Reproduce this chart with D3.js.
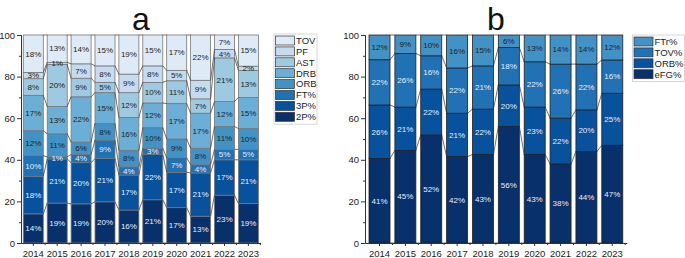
<!DOCTYPE html>
<html><head><meta charset="utf-8">
<script src="https://cdn.jsdelivr.net/npm/d3@7"></script>
<style>body{margin:0;background:#fff}svg{display:block}text{font-family:"Liberation Sans",Arial,sans-serif}</style>
</head><body>
<svg id="c" width="685" height="258"></svg>
<script>
const years = [2014,2015,2016,2017,2018,2019,2020,2021,2022,2023];
const yTicks = [0,20,40,60,80,100];

// Chart a (bottom to top)
const seriesA = ["2P%","3P%","FT%","ORB","DRB","AST","PF","TOV"];
const a2P  = [14,19,19,20,16,21,17,13,23,19];
const a3P  = [18,21,20,21,17,22,17,21,17,21];
const aFT  = [10, 1, 4, 9, 4, 3, 7, 4, 5, 5];
const aORB = [12,11, 6, 8, 8,10, 9, 8,11,10];
const aDRB = [17,13,22,15,16,12,17,17,12,15];
const aAST = [ 8,20, 9, 5,12,10,11, 7,21,13];
const aPF  = [ 3, 1, 7, 8, 9, 8, 5, 9, 4, 2];
const aTOV = [18,13,14,15,19,15,17,22, 7,15];
const colorsA = ["#08306b","#08519c","#2171b5","#4292c6","#6baed6","#9ecae1","#c6dbef","#deebf7"];
const darkTextA = [false,false,false,true,true,true,true,true];

// Chart b (bottom to top)
const seriesB = ["eFG%","ORB%","TOV%","FTr%"];
const bEFG = [41,45,52,42,43,56,43,38,44,47];
const bORB = [26,21,22,21,22,20,23,22,20,25];
const bTOV = [22,26,16,22,21,18,22,26,22,16];
const bFTr = [12, 9,10,16,15, 6,13,14,14,12];
const colorsB = ["#08306b","#08519c","#2171b5","#4292c6"];
const darkTextB = [false,false,false,true];

const svg = d3.select("#c");

function drawChart(cfg){
  const {keys, arrays, colors, darkText, x0, x1, pi, po, title, legendX, legendY, legendW, barStroke} = cfg;
  const rows = years.map((yr,i)=>{const o={year:yr}; keys.forEach((k,j)=>o[k]=arrays[j][i]); return o;});
  const stack = d3.stack().keys(keys).offset(d3.stackOffsetExpand)(rows);
  const x = d3.scaleBand().domain(years).range([x0,x1]).paddingInner(pi).paddingOuter(po);
  const y = d3.scaleLinear().domain([0,100]).range([243,35]);
  const g = svg.append("g");
  const bw = x.bandwidth();

  // bars
  stack.forEach((s,j)=>{
    g.append("g").selectAll("rect").data(s).join("rect")
      .attr("x",d=>x(d.data.year)).attr("width",bw)
      .attr("y",d=>y(d[1]*100)).attr("height",d=>y(d[0]*100)-y(d[1]*100))
      .attr("fill",colors[j]).attr("stroke",barStroke).attr("stroke-width",0.8);
  });
  // connectors
  const levels = [stack[0].map(d=>d[0])].concat(stack.map(s=>s.map(d=>d[1])));
  levels.forEach(lv=>{
    for(let i=0;i<years.length-1;i++){
      g.append("line")
        .attr("x1",x(years[i])+bw).attr("y1",y(lv[i]*100))
        .attr("x2",x(years[i+1])).attr("y2",y(lv[i+1]*100))
        .attr("stroke","#333").attr("stroke-width",0.7);
    }
  });
  // labels
  stack.forEach((s,j)=>{
    g.append("g").selectAll("text").data(s).join("text")
      .attr("x",d=>x(d.data.year)+bw/2)
      .attr("y",d=>y((d[0]+d[1])/2*100))
      .attr("dy","0.35em").attr("text-anchor","middle")
      .attr("font-size","8px")
      .attr("fill",darkText[j]?"#222":"#e8eef6")
      .text(d=>d.data[keys[j]]+"%");
  });
  // y axis
  const ya = g.append("g").attr("transform",`translate(${x0},0)`)
    .call(d3.axisLeft(y).tickValues(yTicks).tickSize(4).tickSizeOuter(0).tickPadding(2));
  ya.append("g").call(d3.axisLeft(y).tickValues(d3.range(10,100,20)).tickSize(2).tickFormat(""));
  ya.selectAll("text").attr("font-size","9.5px").attr("fill","#222").attr("font-family","Liberation Sans, Arial, sans-serif");
  ya.selectAll("path,line").attr("stroke","#333");
  // x axis
  const xa = g.append("g").attr("transform","translate(0,243)")
    .call(d3.axisBottom(x).tickSize(3).tickSizeOuter(0).tickPadding(4.5));
  const step = x.step();
  const bounds = years.map(yr=>x(yr)+bw+ (step-bw)/2);
  xa.append("g").selectAll("line").data(bounds).join("line")
    .attr("x1",d=>d).attr("x2",d=>d).attr("y1",0).attr("y2",2);
  xa.selectAll("text").attr("font-size","9.5px").attr("fill","#222").attr("font-family","Liberation Sans, Arial, sans-serif");
  xa.selectAll("path,line").attr("stroke","#333");
  // title
  svg.append("text").attr("x",(x0+x1)/2).attr("y",30).attr("text-anchor","middle")
    .attr("font-size","32px").attr("fill","#111").text(title);
  // legend
  const n = keys.length, pitch = 10.9;
  const lg = svg.append("g");
  lg.append("rect").attr("x",legendX).attr("y",legendY).attr("width",legendW).attr("height",n*pitch+3)
    .attr("fill","#fff").attr("stroke","#ccc").attr("stroke-width",0.8);
  const order = keys.map((k,j)=>j).reverse();
  order.forEach((j,r)=>{
    const cy = legendY + 6.5 + r*pitch;
    lg.append("rect").attr("x",legendX+1.5).attr("y",cy-4.5).attr("width",19).attr("height",9)
      .attr("fill",colors[j]).attr("stroke","#333").attr("stroke-width",0.7);
    lg.append("text").attr("x",legendX+22).attr("y",cy).attr("dy","0.35em")
      .attr("font-size","9.5px").attr("fill","#222").text(keys[j]);
  });
}

drawChart({keys:seriesA, arrays:[a2P,a3P,aFT,aORB,aDRB,aAST,aPF,aTOV], colors:colorsA, darkText:darkTextA,
  x0:21, x1:260.7, pi:0.163, po:0.096, title:"a", legendX:274, legendY:34, legendW:43, barStroke:"#777"});
drawChart({keys:seriesB, arrays:[bEFG,bORB,bTOV,bFTr], colors:colorsB, darkText:darkTextB,
  x0:365, x1:626.8, pi:0.188, po:0.155, title:"b", legendX:632.5, legendY:35, legendW:52, barStroke:"#222"});
</script>
</body></html>
